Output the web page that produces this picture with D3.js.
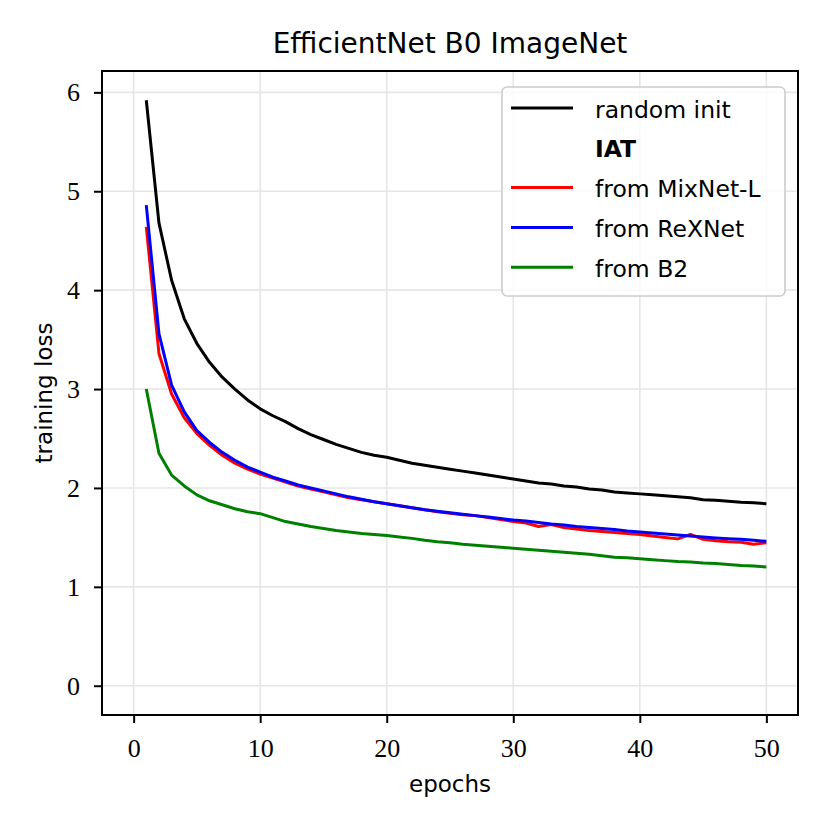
<!DOCTYPE html>
<html>
<head>
<meta charset="utf-8">
<script src="https://cdn.jsdelivr.net/npm/d3@7"></script>
<style>
  body { margin: 0; background: #fff; }
  .tick text { font-family: "Liberation Serif", serif; font-size: 26px; }
</style>
</head>
<body>
<svg id="chart" width="830" height="830"></svg>
<script>
// training loss per epoch
const epochs = d3.range(1, 51);
const randomInit = [5.92, 4.68, 4.10, 3.71, 3.46, 3.27, 3.12, 3.00, 2.89, 2.80,
  2.73, 2.67, 2.60, 2.54, 2.49, 2.44, 2.40, 2.36, 2.33, 2.31,
  2.28, 2.25, 2.23, 2.21, 2.19, 2.17, 2.15, 2.13, 2.11, 2.09,
  2.07, 2.05, 2.04, 2.02, 2.01, 1.99, 1.98, 1.96, 1.95, 1.94,
  1.93, 1.92, 1.91, 1.90, 1.88, 1.875, 1.865, 1.855, 1.85, 1.84];
const fromMixNet = [4.64, 3.36, 2.95, 2.71, 2.55, 2.43, 2.33, 2.25, 2.19, 2.14,
  2.10, 2.06, 2.02, 1.99, 1.96, 1.93, 1.90, 1.88, 1.86, 1.84,
  1.82, 1.80, 1.78, 1.76, 1.745, 1.73, 1.72, 1.70, 1.68, 1.66,
  1.645, 1.61, 1.63, 1.60, 1.585, 1.57, 1.56, 1.55, 1.54, 1.53,
  1.515, 1.50, 1.485, 1.53, 1.48, 1.465, 1.455, 1.45, 1.43, 1.445];
const fromReXNet = [4.86, 3.56, 3.04, 2.77, 2.58, 2.46, 2.36, 2.28, 2.21, 2.16,
  2.11, 2.07, 2.03, 2.00, 1.97, 1.94, 1.91, 1.885, 1.86, 1.84,
  1.82, 1.80, 1.78, 1.765, 1.75, 1.735, 1.72, 1.705, 1.69, 1.675,
  1.665, 1.65, 1.635, 1.625, 1.61, 1.60, 1.59, 1.58, 1.565, 1.555,
  1.545, 1.535, 1.525, 1.515, 1.505, 1.495, 1.487, 1.48, 1.47, 1.46];
const fromB2 = [3.00, 2.35, 2.13, 2.02, 1.93, 1.87, 1.83, 1.79, 1.76, 1.74,
  1.70, 1.66, 1.635, 1.61, 1.59, 1.57, 1.555, 1.54, 1.53, 1.52,
  1.505, 1.49, 1.47, 1.455, 1.445, 1.43, 1.42, 1.41, 1.40, 1.39,
  1.38, 1.37, 1.36, 1.35, 1.34, 1.33, 1.315, 1.30, 1.295, 1.285,
  1.275, 1.265, 1.255, 1.25, 1.24, 1.235, 1.225, 1.215, 1.21, 1.20];
const xTicks = [0, 10, 20, 30, 40, 50];
const yTicks = [0, 1, 2, 3, 4, 5, 6];

const series = [
  { name: "random init", values: randomInit, color: "black" },
  { name: "IAT", values: null, color: "none", bold: true },
  { name: "from MixNet-L", values: fromMixNet, color: "red" },
  { name: "from ReXNet", values: fromReXNet, color: "blue" },
  { name: "from B2", values: fromB2, color: "green" }
];

const margin = { top: 71, right: 32, bottom: 115, left: 102 };
const width = 830 - margin.left - margin.right;
const height = 830 - margin.top - margin.bottom;

const svg = d3.select("#chart");
const g = svg.append("g")
  .attr("transform", "translate(" + margin.left + "," + margin.top + ")");

const x = d3.scaleLinear().domain([-2.5, 52.5]).range([0, width]);
const y = d3.scaleLinear().domain([-0.296, 6.216]).range([height, 0]);

// grid
g.append("g").selectAll("line").data(xTicks).enter().append("line")
  .attr("x1", d => x(d)).attr("x2", d => x(d))
  .attr("y1", 0).attr("y2", height)
  .attr("stroke", "#e6e6e6").attr("stroke-width", 1.6);
g.append("g").selectAll("line").data(yTicks).enter().append("line")
  .attr("y1", d => y(d)).attr("y2", d => y(d))
  .attr("x1", 0).attr("x2", width)
  .attr("stroke", "#e6e6e6").attr("stroke-width", 1.6);

// lines
const line = d3.line()
  .x((d, i) => x(epochs[i]))
  .y(d => y(d));

series.filter(s => s.values).forEach(s => {
  g.append("path")
    .datum(s.values)
    .attr("fill", "none")
    .attr("stroke", s.color)
    .attr("stroke-width", 3)
    .attr("stroke-linejoin", "round")
    .attr("d", line);
});

// axes
const xAxis = g.append("g")
  .attr("transform", "translate(0," + height + ")")
  .call(d3.axisBottom(x).tickValues(xTicks).tickSize(8).tickFormat(d3.format("d")));
xAxis.selectAll(".tick text").attr("dy", null).attr("y", 41.5);
const yAxis = g.append("g")
  .call(d3.axisLeft(y).tickValues(yTicks).tickSize(8).tickPadding(14).tickFormat(d3.format("d")));
[xAxis, yAxis].forEach(a => {
  a.select(".domain").remove();
  a.selectAll(".tick line").attr("stroke", "black").attr("stroke-width", 2);
});

g.append("rect")
  .attr("width", width).attr("height", height)
  .attr("fill", "none").attr("stroke", "black").attr("stroke-width", 2);

// labels
svg.append("text")
  .attr("x", margin.left + width / 2).attr("y", 53)
  .attr("text-anchor", "middle")
  .style("font-family", "DejaVu Sans").style("font-size", "28px")
  .text("EfficientNet B0 ImageNet");
svg.append("text")
  .attr("x", margin.left + width / 2).attr("y", 792)
  .attr("text-anchor", "middle")
  .style("font-family", "DejaVu Sans").style("font-size", "23px")
  .text("epochs");
svg.append("text")
  .attr("transform", "translate(52," + (margin.top + height / 2) + ") rotate(-90)")
  .attr("text-anchor", "middle")
  .style("font-family", "DejaVu Sans").style("font-size", "23px")
  .text("training loss");

// legend
const legend = svg.append("g").attr("transform", "translate(502,87)");
legend.append("rect")
  .attr("width", 283).attr("height", 209)
  .attr("rx", 5)
  .attr("fill", "white").attr("fill-opacity", 0.8)
  .attr("stroke", "#cccccc").attr("stroke-width", 1.6);
series.forEach((s, i) => {
  const ly = 21 + i * 39.8;
  legend.append("line")
    .attr("x1", 9).attr("x2", 71)
    .attr("y1", ly).attr("y2", ly)
    .attr("stroke", s.color).attr("stroke-width", 3);
  legend.append("text")
    .attr("x", 93).attr("y", ly + 9.5)
    .style("font-family", "DejaVu Sans").style("font-size", "23.5px")
    .style("font-weight", s.bold ? "bold" : "normal")
    .text(s.name);
});
</script>
</body>
</html>
